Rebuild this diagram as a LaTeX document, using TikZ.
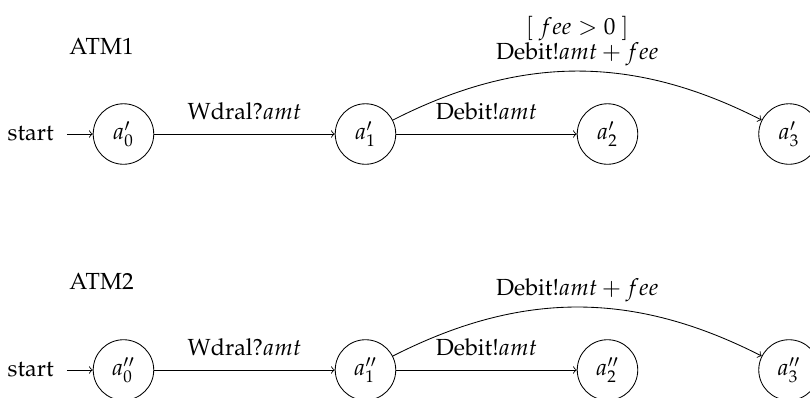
\documentclass[tikz,border=0pt,11pt]{standalone}
\usepackage[T1]{fontenc}
\usepackage{mathpazo}
\usetikzlibrary{automata,positioning,arrows}
\tikzset{%
  loc/.style   = {state, minimum size=1cm, inner sep=1pt}, % location
  title/.style = {inner sep=0pt}, % automaton name
  lab/.style   = {inner sep=6.5pt} % label of a straight transition
}

\begin{document}
\begin{tikzpicture}[auto, node distance=4cm, >=to, initial text=start,
    initial distance=0.43cm, every initial by arrow/.style={inner sep=6pt}]
\useasboundingbox (0,0) rectangle (13.388,-6.562);
	% First automaton
\draw
	node at (1.678,-0.76) [title] (atm1) {ATM1}
	node at (2.041,-2.215) [loc, initial] (a0) {$a'_0$}
	node [loc, right of=a0] (a1) {$a'_1$}
	node [loc, right of=a1] (a2) {$a'_2$}
	node [loc, right of=a2, node distance=3cm] (a3) {$a'_3$};
	% Joining locations
	\draw[->] (a0) -- node[lab] {Wdral?$amt$} (a1);
	\draw[->] (a1) -- node[lab] {Debit!$amt$} (a2);
	\draw[->] (a1) to[bend left=27] node[align=center, inner sep=2pt] {$[\ fee > 0\ ]$\\[-1.5pt]Debit!$amt + fee$} (a3);
	% Second automaton
\draw
	node at (1.678,-4.645) [title] (atm2) {ATM2}
	node [loc, initial, below of=a0, node distance=3.9cm] (b0) {$a''_0$}
	node [loc, right of=b0] (b1) {$a''_1$}
	node [loc, right of=b1] (b2) {$a''_2$}
	node [loc, right of=b2, node distance=3cm] (b3) {$a''_3$};
	% Joining locations
	\draw[->] (b0) -- node[lab] {Wdral?$amt$} (b1);
	\draw[->] (b1) -- node[lab] {Debit!$amt$} (b2);
	\draw[->] (b1) to[bend left=27] node[inner sep=2pt] {Debit!$amt + fee$} (b3);
\end{tikzpicture}
\end{document}
